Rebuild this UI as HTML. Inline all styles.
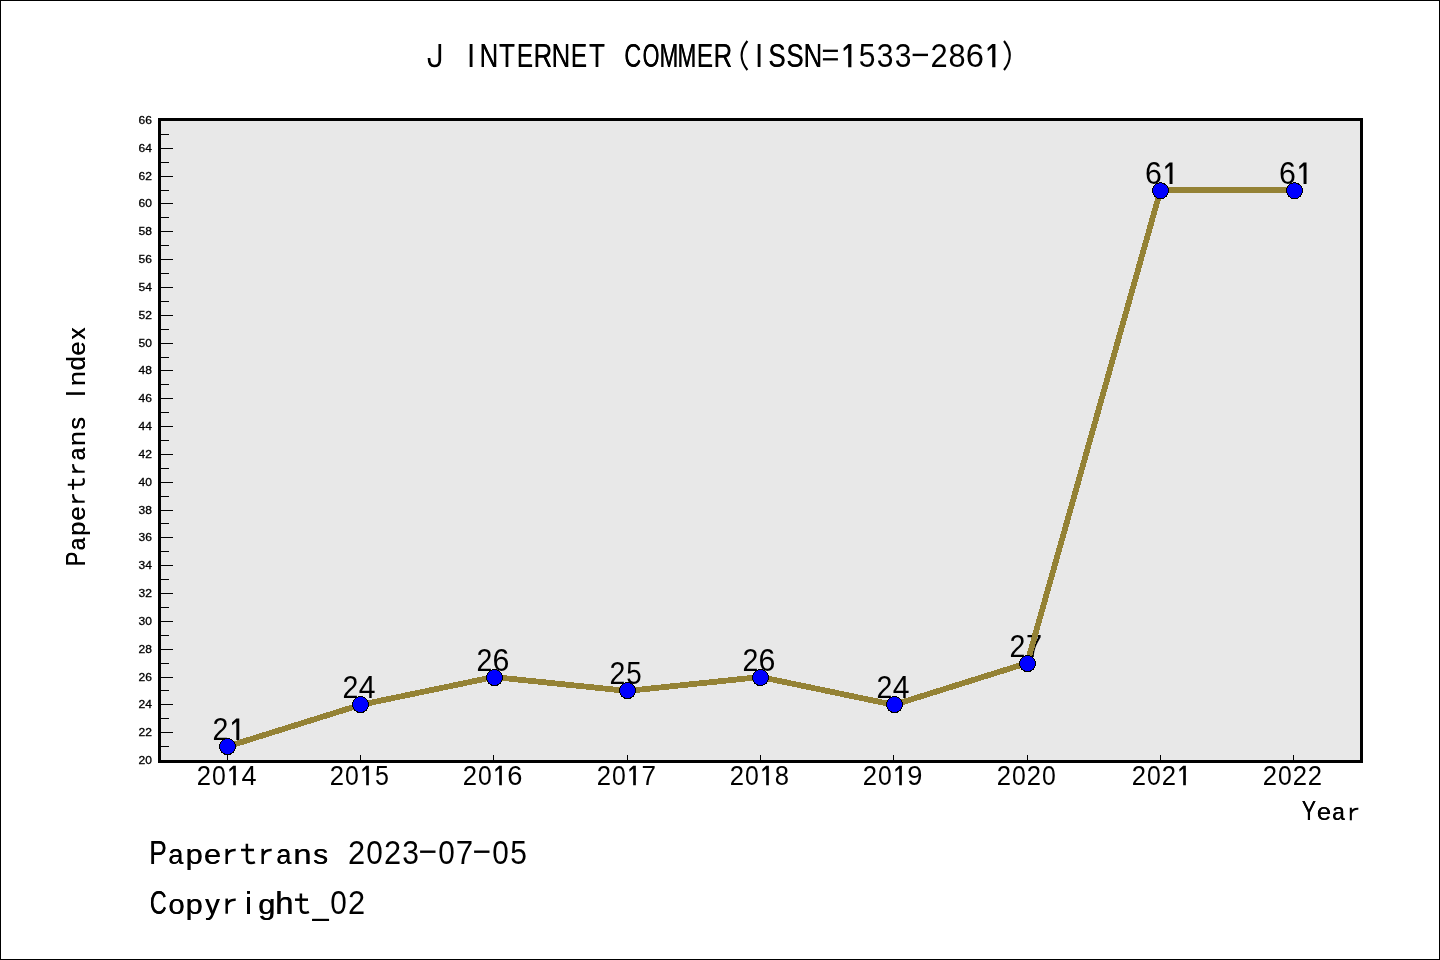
<!DOCTYPE html>
<html lang="en"><head><meta charset="utf-8"><title>J INTERNET COMMER</title>
<style>html,body{margin:0;padding:0;background:#fff;}body{width:1440px;height:960px;overflow:hidden;font-family:"Liberation Sans",sans-serif;}svg{display:block;will-change:transform;}</style></head>
<body>
<svg width="1440" height="960" viewBox="0 0 1440 960" font-family="'Liberation Sans', sans-serif" fill="#000">
<rect x="0" y="0" width="1440" height="960" fill="#fff"/>
<rect x="0.5" y="0.5" width="1439" height="959" fill="none" stroke="#000" stroke-width="1" shape-rendering="crispEdges"/>
<rect x="158" y="118" width="1205" height="645" fill="#000" shape-rendering="crispEdges"/>
<rect x="161" y="121" width="1199" height="639" fill="#e8e8e8" shape-rendering="crispEdges"/>
<g shape-rendering="crispEdges" fill="#000"><rect x="161" y="746" width="8" height="1"/><rect x="161" y="732" width="12" height="1"/><rect x="161" y="718" width="8" height="1"/><rect x="161" y="704" width="12" height="1"/><rect x="161" y="690" width="8" height="1"/><rect x="161" y="677" width="12" height="1"/><rect x="161" y="663" width="8" height="1"/><rect x="161" y="649" width="12" height="1"/><rect x="161" y="635" width="8" height="1"/><rect x="161" y="621" width="12" height="1"/><rect x="161" y="607" width="8" height="1"/><rect x="161" y="593" width="12" height="1"/><rect x="161" y="579" width="8" height="1"/><rect x="161" y="565" width="12" height="1"/><rect x="161" y="551" width="8" height="1"/><rect x="161" y="537" width="12" height="1"/><rect x="161" y="523" width="8" height="1"/><rect x="161" y="510" width="12" height="1"/><rect x="161" y="496" width="8" height="1"/><rect x="161" y="482" width="12" height="1"/><rect x="161" y="468" width="8" height="1"/><rect x="161" y="454" width="12" height="1"/><rect x="161" y="440" width="8" height="1"/><rect x="161" y="426" width="12" height="1"/><rect x="161" y="412" width="8" height="1"/><rect x="161" y="398" width="12" height="1"/><rect x="161" y="384" width="8" height="1"/><rect x="161" y="370" width="12" height="1"/><rect x="161" y="357" width="8" height="1"/><rect x="161" y="343" width="12" height="1"/><rect x="161" y="329" width="8" height="1"/><rect x="161" y="315" width="12" height="1"/><rect x="161" y="301" width="8" height="1"/><rect x="161" y="287" width="12" height="1"/><rect x="161" y="273" width="8" height="1"/><rect x="161" y="259" width="12" height="1"/><rect x="161" y="245" width="8" height="1"/><rect x="161" y="231" width="12" height="1"/><rect x="161" y="217" width="8" height="1"/><rect x="161" y="203" width="12" height="1"/><rect x="161" y="190" width="8" height="1"/><rect x="161" y="176" width="12" height="1"/><rect x="161" y="162" width="8" height="1"/><rect x="161" y="148" width="12" height="1"/><rect x="161" y="134" width="8" height="1"/></g>
<g shape-rendering="crispEdges" fill="#000"><rect x="227" y="755" width="1" height="5"/><rect x="360" y="755" width="1" height="5"/><rect x="493" y="755" width="1" height="5"/><rect x="627" y="755" width="1" height="5"/><rect x="760" y="755" width="1" height="5"/><rect x="893" y="755" width="1" height="5"/><rect x="1027" y="755" width="1" height="5"/><rect x="1160" y="755" width="1" height="5"/><rect x="1293" y="755" width="1" height="5"/></g>
<g font-size="11" text-anchor="end" stroke="#000" stroke-width="0.3"><text x="152" y="763.90" textLength="13.4" lengthAdjust="spacingAndGlyphs">20</text><text x="152" y="735.90" textLength="13.4" lengthAdjust="spacingAndGlyphs">22</text><text x="152" y="707.90" textLength="13.4" lengthAdjust="spacingAndGlyphs">24</text><text x="152" y="680.90" textLength="13.4" lengthAdjust="spacingAndGlyphs">26</text><text x="152" y="652.90" textLength="13.4" lengthAdjust="spacingAndGlyphs">28</text><text x="152" y="624.90" textLength="13.4" lengthAdjust="spacingAndGlyphs">30</text><text x="152" y="596.90" textLength="13.4" lengthAdjust="spacingAndGlyphs">32</text><text x="152" y="568.90" textLength="13.4" lengthAdjust="spacingAndGlyphs">34</text><text x="152" y="540.90" textLength="13.4" lengthAdjust="spacingAndGlyphs">36</text><text x="152" y="513.90" textLength="13.4" lengthAdjust="spacingAndGlyphs">38</text><text x="152" y="485.90" textLength="13.4" lengthAdjust="spacingAndGlyphs">40</text><text x="152" y="457.90" textLength="13.4" lengthAdjust="spacingAndGlyphs">42</text><text x="152" y="429.90" textLength="13.4" lengthAdjust="spacingAndGlyphs">44</text><text x="152" y="401.90" textLength="13.4" lengthAdjust="spacingAndGlyphs">46</text><text x="152" y="373.90" textLength="13.4" lengthAdjust="spacingAndGlyphs">48</text><text x="152" y="346.90" textLength="13.4" lengthAdjust="spacingAndGlyphs">50</text><text x="152" y="318.90" textLength="13.4" lengthAdjust="spacingAndGlyphs">52</text><text x="152" y="290.90" textLength="13.4" lengthAdjust="spacingAndGlyphs">54</text><text x="152" y="262.90" textLength="13.4" lengthAdjust="spacingAndGlyphs">56</text><text x="152" y="234.90" textLength="13.4" lengthAdjust="spacingAndGlyphs">58</text><text x="152" y="206.90" textLength="13.4" lengthAdjust="spacingAndGlyphs">60</text><text x="152" y="179.90" textLength="13.4" lengthAdjust="spacingAndGlyphs">62</text><text x="152" y="151.90" textLength="13.4" lengthAdjust="spacingAndGlyphs">64</text><text x="152" y="123.90" textLength="13.4" lengthAdjust="spacingAndGlyphs">66</text></g>
<g font-size="31.490"><text transform="translate(212.47 740.00) scale(0.9061 0.9853)">2</text><g transform="translate(237.07 740.00) scale(0.9258)" fill="#000" stroke="none"><path d="M-0.8 -23.3 L2.4 -23.3 L2.4 0 L-0.8 0 L-0.8 -19.7 L-5.2 -16.0 L-5.5 -19.0 Z"/></g></g>
<g font-size="31.490"><text transform="translate(342.47 698.00) scale(0.9061 0.9853)">2</text><text transform="translate(358.79 698.00) scale(0.9557 1.0000)">4</text></g>
<g font-size="31.490"><text transform="translate(476.47 671.00) scale(0.9061 0.9853)">2</text><text transform="translate(492.53 671.00) scale(0.9634 0.9853)">6</text></g>
<g font-size="31.490"><text transform="translate(609.47 684.00) scale(0.9061 0.9853)">2</text><text transform="translate(626.37 684.00) scale(0.8818 1.0000)">5</text></g>
<g font-size="31.490"><text transform="translate(742.47 671.00) scale(0.9061 0.9853)">2</text><text transform="translate(758.53 671.00) scale(0.9634 0.9853)">6</text></g>
<g font-size="31.490"><text transform="translate(876.47 698.00) scale(0.9061 0.9853)">2</text><text transform="translate(892.79 698.00) scale(0.9557 1.0000)">4</text></g>
<g font-size="31.490"><text transform="translate(1009.47 657.00) scale(0.9061 0.9853)">2</text><text transform="translate(1026.00 657.00) scale(0.9197 1.0000)">7</text></g>
<g font-size="31.490"><text transform="translate(1145.09 184.00) scale(0.9634 0.9853)">6</text><g transform="translate(1170.30 184.00) scale(0.9258)" fill="#000" stroke="none"><path d="M-0.8 -23.3 L2.4 -23.3 L2.4 0 L-0.8 0 L-0.8 -19.7 L-5.2 -16.0 L-5.5 -19.0 Z"/></g></g>
<g font-size="31.490"><text transform="translate(1279.09 184.00) scale(0.9634 0.9853)">6</text><g transform="translate(1304.30 184.00) scale(0.9258)" fill="#000" stroke="none"><path d="M-0.8 -23.3 L2.4 -23.3 L2.4 0 L-0.8 0 L-0.8 -19.7 L-5.2 -16.0 L-5.5 -19.0 Z"/></g></g>
<polyline points="227.17,746.59 360.50,704.85 493.83,677.02 627.17,690.93 760.50,677.02 893.83,704.85 1027.17,663.11 1160.50,190.07 1293.83,190.07" fill="none" stroke="#948235" stroke-width="5.8" stroke-linejoin="round" stroke-linecap="butt" shape-rendering="crispEdges"/>
<g fill="#0000ff" stroke="#000" stroke-width="1.0" shape-rendering="crispEdges"><circle cx="227.5" cy="746.6" r="8.0"/><circle cx="360.5" cy="704.6" r="8.0"/><circle cx="494.5" cy="677.6" r="8.0"/><circle cx="627.5" cy="690.6" r="8.0"/><circle cx="760.5" cy="677.6" r="8.0"/><circle cx="894.5" cy="704.6" r="8.0"/><circle cx="1027.5" cy="663.6" r="8.0"/><circle cx="1160.5" cy="190.7" r="8.0"/><circle cx="1294.5" cy="190.7" r="8.0"/></g>
<g font-size="28.344"><text transform="translate(196.71 785.20) scale(0.9061 0.9853)">2</text><text transform="translate(211.96 785.20) scale(0.8746 0.9853)">0</text><g transform="translate(233.85 785.20) scale(0.8333)" fill="#000" stroke="none"><path d="M-0.8 -23.3 L2.4 -23.3 L2.4 0 L-0.8 0 L-0.8 -19.7 L-5.2 -16.0 L-5.5 -19.0 Z"/></g><text transform="translate(241.40 785.20) scale(0.9557 1.0000)">4</text></g>
<g font-size="28.344"><text transform="translate(329.71 785.20) scale(0.9061 0.9853)">2</text><text transform="translate(344.96 785.20) scale(0.8746 0.9853)">0</text><g transform="translate(366.85 785.20) scale(0.8333)" fill="#000" stroke="none"><path d="M-0.8 -23.3 L2.4 -23.3 L2.4 0 L-0.8 0 L-0.8 -19.7 L-5.2 -16.0 L-5.5 -19.0 Z"/></g><text transform="translate(374.92 785.20) scale(0.8818 1.0000)">5</text></g>
<g font-size="28.344"><text transform="translate(462.71 785.20) scale(0.9061 0.9853)">2</text><text transform="translate(477.96 785.20) scale(0.8746 0.9853)">0</text><g transform="translate(499.85 785.20) scale(0.8333)" fill="#000" stroke="none"><path d="M-0.8 -23.3 L2.4 -23.3 L2.4 0 L-0.8 0 L-0.8 -19.7 L-5.2 -16.0 L-5.5 -19.0 Z"/></g><text transform="translate(507.16 785.20) scale(0.9634 0.9853)">6</text></g>
<g font-size="28.344"><text transform="translate(596.71 785.20) scale(0.9061 0.9853)">2</text><text transform="translate(611.96 785.20) scale(0.8746 0.9853)">0</text><g transform="translate(633.85 785.20) scale(0.8333)" fill="#000" stroke="none"><path d="M-0.8 -23.3 L2.4 -23.3 L2.4 0 L-0.8 0 L-0.8 -19.7 L-5.2 -16.0 L-5.5 -19.0 Z"/></g><text transform="translate(641.59 785.20) scale(0.9197 1.0000)">7</text></g>
<g font-size="28.344"><text transform="translate(729.71 785.20) scale(0.9061 0.9853)">2</text><text transform="translate(744.96 785.20) scale(0.8746 0.9853)">0</text><g transform="translate(766.85 785.20) scale(0.8333)" fill="#000" stroke="none"><path d="M-0.8 -23.3 L2.4 -23.3 L2.4 0 L-0.8 0 L-0.8 -19.7 L-5.2 -16.0 L-5.5 -19.0 Z"/></g><text transform="translate(774.74 785.20) scale(0.9023 0.9853)">8</text></g>
<g font-size="28.344"><text transform="translate(862.71 785.20) scale(0.9061 0.9853)">2</text><text transform="translate(877.96 785.20) scale(0.8746 0.9853)">0</text><g transform="translate(899.85 785.20) scale(0.8333)" fill="#000" stroke="none"><path d="M-0.8 -23.3 L2.4 -23.3 L2.4 0 L-0.8 0 L-0.8 -19.7 L-5.2 -16.0 L-5.5 -19.0 Z"/></g><text transform="translate(907.27 785.20) scale(0.9624 0.9853)">9</text></g>
<g font-size="28.344"><text transform="translate(996.71 785.20) scale(0.9061 0.9853)">2</text><text transform="translate(1011.96 785.20) scale(0.8746 0.9853)">0</text><text transform="translate(1026.71 785.20) scale(0.9061 0.9853)">2</text><text transform="translate(1041.96 785.20) scale(0.8746 0.9853)">0</text></g>
<g font-size="28.344"><text transform="translate(1131.71 785.20) scale(0.9061 0.9853)">2</text><text transform="translate(1146.96 785.20) scale(0.8746 0.9853)">0</text><text transform="translate(1161.71 785.20) scale(0.9061 0.9853)">2</text><g transform="translate(1183.85 785.20) scale(0.8333)" fill="#000" stroke="none"><path d="M-0.8 -23.3 L2.4 -23.3 L2.4 0 L-0.8 0 L-0.8 -19.7 L-5.2 -16.0 L-5.5 -19.0 Z"/></g></g>
<g font-size="28.344"><text transform="translate(1262.71 785.20) scale(0.9061 0.9853)">2</text><text transform="translate(1277.96 785.20) scale(0.8746 0.9853)">0</text><text transform="translate(1292.71 785.20) scale(0.9061 0.9853)">2</text><text transform="translate(1307.71 785.20) scale(0.9061 0.9853)">2</text></g>
<g font-size="34.012"><g transform="translate(435.00 67.20) scale(1.0000)" fill="none" stroke="#000" stroke-width="2.70"><path d="M4.8 -23.3 L4.8 -7 C4.8 -2.8 2.6 -1.2 -0.8 -1.2 C-4.2 -1.2 -6.0 -3.0 -6.0 -9.2"/></g><text transform="translate(467.14 67.20) scale(0.7800 1.0000)">I</text><text transform="translate(467.49 67.20) scale(0.7800 1.0000)">I</text><text transform="translate(479.51 67.20) scale(0.7579 1.0000)">N</text><text transform="translate(479.86 67.20) scale(0.7579 1.0000)">N</text><text transform="translate(498.96 67.20) scale(0.7581 1.0000)">T</text><text transform="translate(499.31 67.20) scale(0.7581 1.0000)">T</text><text transform="translate(516.63 67.20) scale(0.7128 1.0000)">E</text><text transform="translate(516.98 67.20) scale(0.7128 1.0000)">E</text><text transform="translate(533.42 67.20) scale(0.7576 1.0000)">R</text><text transform="translate(533.77 67.20) scale(0.7576 1.0000)">R</text><text transform="translate(551.51 67.20) scale(0.7579 1.0000)">N</text><text transform="translate(551.86 67.20) scale(0.7579 1.0000)">N</text><text transform="translate(570.63 67.20) scale(0.7128 1.0000)">E</text><text transform="translate(570.98 67.20) scale(0.7128 1.0000)">E</text><text transform="translate(588.96 67.20) scale(0.7581 1.0000)">T</text><text transform="translate(589.31 67.20) scale(0.7581 1.0000)">T</text><text transform="translate(624.26 67.20) scale(0.6852 1.0000)">C</text><text transform="translate(624.61 67.20) scale(0.6852 1.0000)">C</text><text transform="translate(642.42 67.20) scale(0.6357 1.0000)">O</text><text transform="translate(642.77 67.20) scale(0.6357 1.0000)">O</text><text transform="translate(659.52 67.20) scale(0.6566 1.0000)">M</text><text transform="translate(659.87 67.20) scale(0.6566 1.0000)">M</text><text transform="translate(677.52 67.20) scale(0.6566 1.0000)">M</text><text transform="translate(677.87 67.20) scale(0.6566 1.0000)">M</text><text transform="translate(696.63 67.20) scale(0.7128 1.0000)">E</text><text transform="translate(696.98 67.20) scale(0.7128 1.0000)">E</text><text transform="translate(713.42 67.20) scale(0.7576 1.0000)">R</text><text transform="translate(713.77 67.20) scale(0.7576 1.0000)">R</text><g transform="translate(741.00 67.20) scale(1.0000)" fill="none" stroke="#000" stroke-width="2.10"><path d="M6.4 -26.2 Q-5.2 -11.7 6.4 2.8"/></g><text transform="translate(755.14 67.20) scale(0.7800 1.0000)">I</text><text transform="translate(755.49 67.20) scale(0.7800 1.0000)">I</text><text transform="translate(768.28 67.20) scale(0.7538 1.0000)">S</text><text transform="translate(768.63 67.20) scale(0.7538 1.0000)">S</text><text transform="translate(786.28 67.20) scale(0.7538 1.0000)">S</text><text transform="translate(786.63 67.20) scale(0.7538 1.0000)">S</text><text transform="translate(803.51 67.20) scale(0.7579 1.0000)">N</text><text transform="translate(803.86 67.20) scale(0.7579 1.0000)">N</text><g transform="translate(831.00 67.20) scale(1.0000)" fill="none" stroke="#000" stroke-width="2.30"><path d="M-8.1 -16.4 L6.9 -16.4"/><path d="M-8.1 -7.9 L6.9 -7.9"/></g><g transform="translate(849.00 67.20) scale(1.0000)" fill="#000" stroke="none"><path d="M-0.8 -23.3 L2.4 -23.3 L2.4 0 L-0.8 0 L-0.8 -19.7 L-5.2 -16.0 L-5.5 -19.0 Z"/></g><text transform="translate(858.69 67.20) scale(0.8818 1.0000)">5</text><text transform="translate(876.75 67.20) scale(0.8818 0.9853)">3</text><text transform="translate(894.75 67.20) scale(0.8818 0.9853)">3</text><g transform="translate(921.00 67.20) scale(1.0000)" fill="none" stroke="#000" stroke-width="2.40"><path d="M-8.4 -12.3 L7.0 -12.3"/></g><text transform="translate(930.43 67.20) scale(0.9061 0.9853)">2</text><text transform="translate(948.47 67.20) scale(0.9023 0.9853)">8</text><text transform="translate(965.78 67.20) scale(0.9634 0.9853)">6</text><g transform="translate(993.00 67.20) scale(1.0000)" fill="#000" stroke="none"><path d="M-0.8 -23.3 L2.4 -23.3 L2.4 0 L-0.8 0 L-0.8 -19.7 L-5.2 -16.0 L-5.5 -19.0 Z"/></g><g transform="translate(1011.00 67.20) scale(1.0000)" fill="none" stroke="#000" stroke-width="2.10"><path d="M-7 -26.2 Q4.6 -11.7 -7 2.8"/></g></g>
<g font-size="28.344"><text transform="translate(1301.76 820.30) scale(0.7475 1.0000)">Y</text><text transform="translate(1302.11 820.30) scale(0.7475 1.0000)">Y</text><text transform="translate(1316.74 820.30) scale(0.9023 0.8300)">e</text><text transform="translate(1317.09 820.30) scale(0.9023 0.8300)">e</text><text transform="translate(1332.09 820.30) scale(0.7933 0.8300)">a</text><text transform="translate(1332.44 820.30) scale(0.7933 0.8300)">a</text><g transform="translate(1354.00 820.30) scale(0.8333)" fill="none" stroke="#000" stroke-width="2.50"><path d="M-3.8 -15.1 L-3.8 0"/><path d="M-3.6 -8.6 Q-1.6 -14.3 5.2 -13.9"/></g></g>
<g font-size="34.012"><text transform="translate(149.26 864.00) scale(0.7657 1.0000)">P</text><text transform="translate(149.61 864.00) scale(0.7657 1.0000)">P</text><text transform="translate(168.25 864.00) scale(0.7933 0.8300)">a</text><text transform="translate(168.60 864.00) scale(0.7933 0.8300)">a</text><text transform="translate(185.41 864.00) scale(0.9061 0.8300)">p</text><text transform="translate(185.76 864.00) scale(0.9061 0.8300)">p</text><text transform="translate(203.82 864.00) scale(0.9023 0.8300)">e</text><text transform="translate(204.17 864.00) scale(0.9023 0.8300)">e</text><g transform="translate(230.50 864.00) scale(1.0000)" fill="none" stroke="#000" stroke-width="2.50"><path d="M-3.8 -15.1 L-3.8 0"/><path d="M-3.6 -8.6 Q-1.6 -14.3 5.2 -13.9"/></g><g transform="translate(248.50 864.00) scale(1.0000)" fill="none" stroke="#000" stroke-width="2.50"><path d="M-1.6 -20.3 L-1.6 -5.2 Q-1.6 -0.9 2.6 -0.9 Q4.6 -0.9 6.4 -1.9"/><path d="M-7.5 -14 L5.5 -14"/></g><g transform="translate(266.50 864.00) scale(1.0000)" fill="none" stroke="#000" stroke-width="2.50"><path d="M-3.8 -15.1 L-3.8 0"/><path d="M-3.6 -8.6 Q-1.6 -14.3 5.2 -13.9"/></g><text transform="translate(276.25 864.00) scale(0.7933 0.8300)">a</text><text transform="translate(276.60 864.00) scale(0.7933 0.8300)">a</text><text transform="translate(293.23 864.00) scale(0.9593 0.8300)">n</text><text transform="translate(293.58 864.00) scale(0.9593 0.8300)">n</text><text transform="translate(312.92 864.00) scale(0.8860 0.8300)">s</text><text transform="translate(313.27 864.00) scale(0.8860 0.8300)">s</text><text transform="translate(347.93 864.00) scale(0.9061 0.9853)">2</text><text transform="translate(366.23 864.00) scale(0.8746 0.9853)">0</text><text transform="translate(383.93 864.00) scale(0.9061 0.9853)">2</text><text transform="translate(402.25 864.00) scale(0.8818 0.9853)">3</text><g transform="translate(428.50 864.00) scale(1.0000)" fill="none" stroke="#000" stroke-width="2.40"><path d="M-8.4 -12.3 L7.0 -12.3"/></g><text transform="translate(438.23 864.00) scale(0.8746 0.9853)">0</text><text transform="translate(455.79 864.00) scale(0.9197 1.0000)">7</text><g transform="translate(482.50 864.00) scale(1.0000)" fill="none" stroke="#000" stroke-width="2.40"><path d="M-8.4 -12.3 L7.0 -12.3"/></g><text transform="translate(492.23 864.00) scale(0.8746 0.9853)">0</text><text transform="translate(510.19 864.00) scale(0.8818 1.0000)">5</text></g>
<g font-size="34.012"><text transform="translate(149.76 913.70) scale(0.6852 1.0000)">C</text><text transform="translate(150.11 913.70) scale(0.6852 1.0000)">C</text><text transform="translate(168.16 913.70) scale(0.8630 0.8300)">o</text><text transform="translate(168.51 913.70) scale(0.8630 0.8300)">o</text><text transform="translate(185.41 913.70) scale(0.9061 0.8300)">p</text><text transform="translate(185.76 913.70) scale(0.9061 0.8300)">p</text><text transform="translate(205.05 913.70) scale(0.8543 0.8300)">y</text><text transform="translate(205.40 913.70) scale(0.8543 0.8300)">y</text><g transform="translate(230.50 913.70) scale(1.0000)" fill="none" stroke="#000" stroke-width="2.50"><path d="M-3.8 -15.1 L-3.8 0"/><path d="M-3.6 -8.6 Q-1.6 -14.3 5.2 -13.9"/></g><text transform="translate(244.93 913.70) scale(0.9000 0.9200)">i</text><text transform="translate(245.28 913.70) scale(0.9000 0.9200)">i</text><text transform="translate(258.10 913.70) scale(0.9061 0.8300)">g</text><text transform="translate(258.45 913.70) scale(0.9061 0.8300)">g</text><text transform="translate(275.12 913.70) scale(0.9659 0.9200)">h</text><text transform="translate(275.47 913.70) scale(0.9659 0.9200)">h</text><g transform="translate(302.50 913.70) scale(1.0000)" fill="none" stroke="#000" stroke-width="2.50"><path d="M-1.6 -20.3 L-1.6 -5.2 Q-1.6 -0.9 2.6 -0.9 Q4.6 -0.9 6.4 -1.9"/><path d="M-7.5 -14 L5.5 -14"/></g><text transform="translate(312.39 913.70) scale(0.8449 1.0000)">_</text><text transform="translate(312.74 913.70) scale(0.8449 1.0000)">_</text><text transform="translate(330.23 913.70) scale(0.8746 0.9853)">0</text><text transform="translate(347.93 913.70) scale(0.9061 0.9853)">2</text></g>
<g font-size="28.344" transform="translate(84.7 566) rotate(-90)"><text transform="translate(-0.23 0.00) scale(0.7657 1.0000)">P</text><text transform="translate(0.12 0.00) scale(0.7657 1.0000)">P</text><text transform="translate(15.59 0.00) scale(0.7933 0.8300)">a</text><text transform="translate(15.94 0.00) scale(0.7933 0.8300)">a</text><text transform="translate(29.89 0.00) scale(0.9061 0.8300)">p</text><text transform="translate(30.24 0.00) scale(0.9061 0.8300)">p</text><text transform="translate(45.24 0.00) scale(0.9023 0.8300)">e</text><text transform="translate(45.59 0.00) scale(0.9023 0.8300)">e</text><g transform="translate(67.50 0.00) scale(0.8333)" fill="none" stroke="#000" stroke-width="2.50"><path d="M-3.8 -15.1 L-3.8 0"/><path d="M-3.6 -8.6 Q-1.6 -14.3 5.2 -13.9"/></g><g transform="translate(82.50 0.00) scale(0.8333)" fill="none" stroke="#000" stroke-width="2.50"><path d="M-1.6 -20.3 L-1.6 -5.2 Q-1.6 -0.9 2.6 -0.9 Q4.6 -0.9 6.4 -1.9"/><path d="M-7.5 -14 L5.5 -14"/></g><g transform="translate(97.50 0.00) scale(0.8333)" fill="none" stroke="#000" stroke-width="2.50"><path d="M-3.8 -15.1 L-3.8 0"/><path d="M-3.6 -8.6 Q-1.6 -14.3 5.2 -13.9"/></g><text transform="translate(105.59 0.00) scale(0.7933 0.8300)">a</text><text transform="translate(105.94 0.00) scale(0.7933 0.8300)">a</text><text transform="translate(119.74 0.00) scale(0.9593 0.8300)">n</text><text transform="translate(120.09 0.00) scale(0.9593 0.8300)">n</text><text transform="translate(136.15 0.00) scale(0.8860 0.8300)">s</text><text transform="translate(136.50 0.00) scale(0.8860 0.8300)">s</text><text transform="translate(169.25 0.00) scale(0.7800 1.0000)">I</text><text transform="translate(169.60 0.00) scale(0.7800 1.0000)">I</text><text transform="translate(179.74 0.00) scale(0.9593 0.8300)">n</text><text transform="translate(180.09 0.00) scale(0.9593 0.8300)">n</text><text transform="translate(195.47 0.00) scale(0.9061 0.9200)">d</text><text transform="translate(195.82 0.00) scale(0.9061 0.9200)">d</text><text transform="translate(210.24 0.00) scale(0.9023 0.8300)">e</text><text transform="translate(210.59 0.00) scale(0.9023 0.8300)">e</text><text transform="translate(226.28 0.00) scale(0.8525 0.8300)">x</text><text transform="translate(226.63 0.00) scale(0.8525 0.8300)">x</text></g>
</svg>
</body></html>
